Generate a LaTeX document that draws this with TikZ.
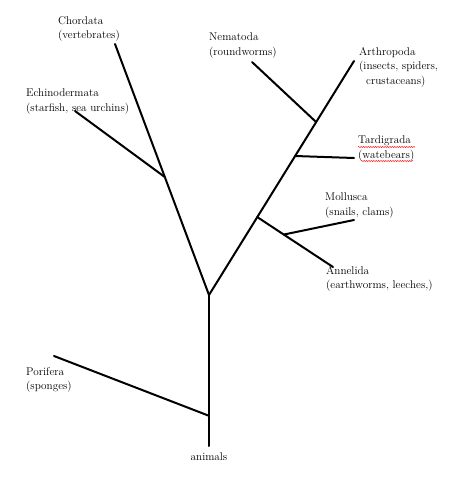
\documentclass[tikz,border=0pt]{standalone}
\usepackage{tikz}
\usetikzlibrary{positioning, calc}
\usetikzlibrary{decorations.pathmorphing}
\tikzset{%
  x=1pt, y=-1pt, % picture is laid out in pixels, y going down
  taxon/.style={anchor=north west, inner sep=0pt, align=left,
    font=\fontsize{11.2}{14.5}\selectfont},
  every edge/.style={%
    draw, line width=2pt, line cap=round
  },
  spell/.style={draw=red, line width=0.5pt, decorate,
    decoration={snake, amplitude=0.5pt, segment length=2.4pt}}
}

\begin{document}
\begin{tikzpicture}
    \useasboundingbox (0,0) rectangle (474,498);
    % trunk and main fork
    \coordinate (base) at (209,446);
    \coordinate (split) at (209,295);
    \coordinate (chordtip) at (115,44);
    \coordinate (arthtip) at (354,61);
    \coordinate (porj) at ($(base)!0.2!(split)$);
    \coordinate (portip) at (54,356);
    \coordinate (echj) at ($(split)!0.47!(chordtip)$);
    \coordinate (echtip) at (75,111);
    \coordinate (nemj) at ($(split)!0.739!(arthtip)$);
    \coordinate (nemtip) at (252,62);
    \coordinate (tardj) at ($(split)!0.594!(arthtip)$);
    \coordinate (tardtip) at (354,158);
    \coordinate (lophj) at ($(split)!0.333!(arthtip)$);
    \coordinate (annetip) at (333,267);
    \coordinate (mollj) at ($(lophj)!0.35!(annetip)$);
    \coordinate (molltip) at (354,220);

    \draw (base) edge (split);
    \draw (porj) edge (portip);
    \draw (split) edge (chordtip);
    \draw (echj) edge (echtip);
    \draw (split) edge (arthtip);
    \draw (nemj) edge (nemtip);
    \draw (tardj) edge (tardtip);
    \draw (lophj) edge (annetip);
    \draw (mollj) edge (molltip);

    \node[taxon] (chordata) at (58,16) {Chordata\\(vertebrates)};
    \node[taxon] (echino) at (26,89) {Echinodermata\\(starfish, sea urchins)};
    \node[taxon] (nematoda) at (209,33) {Nematoda\\(roundworms)};
    \node[taxon] (arthropoda) at (359,47) {Arthropoda\\(insects, spiders,\\\hspace{7pt}crustaceans)};
    \node[taxon] (tardigrada) at (358,136) {Tardigrada\\(watebears)};
    \node[taxon] (mollusca) at (325,193) {Mollusca\\(snails, clams)};
    \node[taxon] (annelida) at (326,266) {Annelida\\(earthworms, leeches,)};
    \node[taxon] (porifera) at (26,367) {Porifera\\(sponges)};
    \node[taxon, anchor=north] (animals) at (209,453) {animals};

    % spell-check marks under the tardigrade label
    \draw[spell] (358,147) -- (415,147);
    \draw[spell] (361,161) -- (413,161);
\end{tikzpicture}
\end{document}
